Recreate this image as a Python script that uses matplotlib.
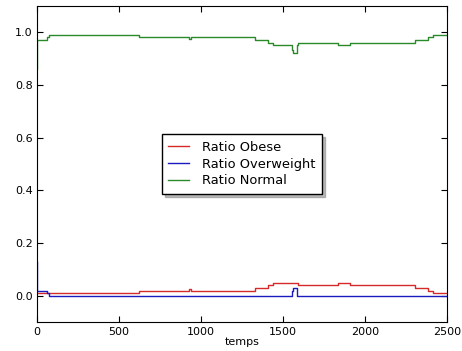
import numpy as np
import matplotlib
matplotlib.use("Agg")
import matplotlib.pyplot as plt

plt.rcParams['font.size'] = 8

# step change times and ratio values
t_obese = [0, 620, 930, 940, 1329, 1411, 1441, 1594, 1837, 1909, 2305, 2386, 2417, 2500]
obese = [0.01, 0.02, 0.025, 0.02, 0.03, 0.04, 0.05, 0.04, 0.05, 0.04, 0.03, 0.02, 0.01, 0.01]

t_over = [0, 3, 60, 75, 1553, 1562, 1585, 2500]
over = [0.13, 0.02, 0.01, 0.0, 0.02, 0.03, 0.0, 0.0]

t_normal = [0, 3, 60, 75, 620, 930, 940, 1329, 1411, 1441, 1553, 1562, 1585, 1594,
            1837, 1909, 2305, 2386, 2417, 2500]
normal = [0.86, 0.97, 0.98, 0.99, 0.98, 0.975, 0.98, 0.97, 0.96, 0.95, 0.93, 0.92, 0.95, 0.96,
          0.95, 0.96, 0.97, 0.98, 0.99, 0.99]

fig = plt.figure(figsize=(4.62, 3.51), dpi=100)
ax = fig.add_axes([0.080, 0.0815, 0.8875, 0.9025])

ax.plot(t_obese, obese, color='#d62a2a', lw=1, drawstyle='steps-post', label='Ratio Obese')
ax.plot(t_over, over, color='#1a1abf', lw=1, drawstyle='steps-post', label='Ratio Overweight')
ax.plot(t_normal, normal, color='#2a8a2a', lw=1, drawstyle='steps-post', label='Ratio Normal')

ax.set_xlim(0, 2500)
ax.set_ylim(-0.1, 1.1)
ax.set_xticks([0, 500, 1000, 1500, 2000, 2500])
ax.set_yticks([0.0, 0.2, 0.4, 0.6, 0.8, 1.0])
ax.tick_params(direction='in', top=True, right=True, length=4, pad=3)
ax.set_xlabel('temps', labelpad=0)

leg = ax.legend(loc='center', shadow={'color': '0.55', 'alpha': 0.6}, fancybox=False,
                fontsize=9.4, handlelength=1.6, handletextpad=1.0,
                borderpad=0.5, labelspacing=0.3)
leg.get_frame().set_edgecolor('black')
leg.get_frame().set_facecolor('white')
leg.get_frame().set_alpha(1)

fig.savefig('out.png', dpi=100)
